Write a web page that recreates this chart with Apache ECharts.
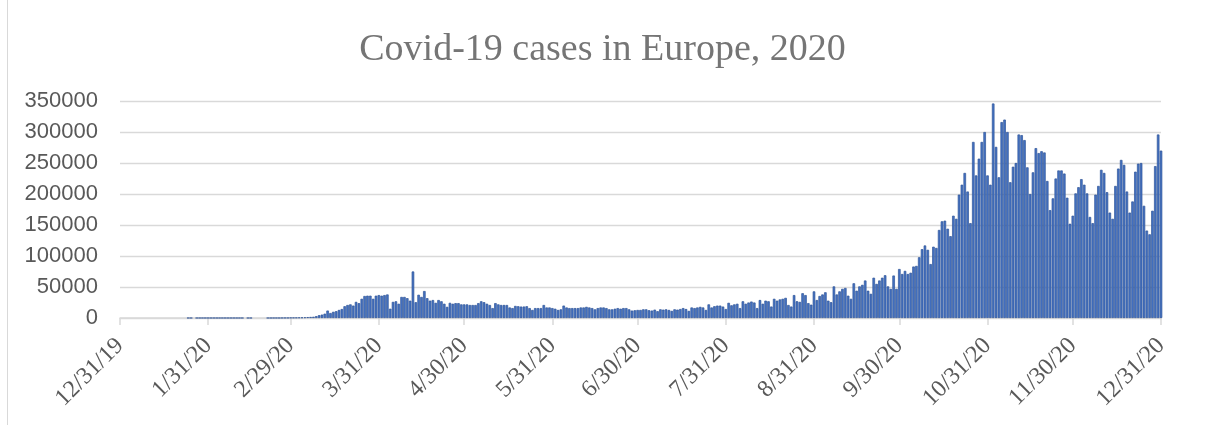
<!DOCTYPE html>
<html>
<head>
<meta charset="utf-8">
<title>Covid-19 cases in Europe, 2020</title>
<script src="https://cdn.jsdelivr.net/npm/echarts@6.0.0/dist/echarts.min.js"></script>
<style>
  html, body { margin: 0; padding: 0; background: #fff; }
  #frame { position: absolute; left: 7px; top: 0; width: 1197px; height: 425px; border-left: 1px solid #d9d9d9; }
  #chart { position: absolute; left: 0; top: 0; width: 1205px; height: 426px; }
</style>
</head>
<body>
<div id="frame"></div>
<div id="chart"></div>
<script>
// daily new cases (12/31/2019 .. 12/31/2020)
var dec2019 = [0]
var jan = [0, 0, 0, 0, 0, 0, 0, 0, 0, 0, 0, 0, 0, 0, 0, 0, 0, 0, 0, 0, 0, 0, 0, 2, 1, 0, 1, 4, 1, 1, 3]
var feb = [3, 1, 4, 1, 1, 2, 1, 5, 1, 4, 1, 2, 0, 1, 1, 0, 0, 0, 0, 0, 3, 17, 62, 65, 100, 170, 250, 300, 450]
var mar = [550, 600, 800, 900, 1100, 1400, 1700, 2000, 3000, 4500, 5500, 7000, 12000, 8000, 10000, 11000,
  13000, 14500, 19000, 21000, 22000, 20000, 26000, 24000, 31000, 35500, 36000, 36000, 31000, 36000, 37000]
var apr = [36000, 37000, 38000, 15000, 26000, 27000, 23000, 34000, 34000, 32000, 28000, 75000, 25500, 37500, 34000,
  43500, 32000, 28000, 29000, 24500, 29000, 27000, 23000, 18000, 24500, 23000, 24000, 24000, 22000, 22000]
var may = [22000, 21000, 21000, 21000, 24000, 27000, 25500, 23000, 21000, 16000, 24000, 22000, 21000, 21000, 21000,
  17000, 16000, 19500, 19000, 18500, 18500, 19000, 16000, 13000, 16000, 16000, 16000, 21000, 17000, 17000, 16000]
var jun = [15000, 13000, 14000, 20000, 17000, 16000, 16000, 16000, 16000, 17000, 17000, 18000, 17000, 16000, 14000,
  16000, 17000, 17000, 16000, 14000, 14000, 15000, 16000, 15000, 16000, 16000, 14000, 12000, 12500, 13000]
var jul = [13000, 14000, 14000, 12500, 12000, 13500, 11000, 14000, 13500, 14000, 13000, 11500, 14000, 13500, 14500,
  16000, 14500, 11500, 17000, 16000, 17000, 18000, 17000, 13000, 22000, 17000, 19000, 20000, 20000, 18500, 14500]
var aug = [24500, 20500, 22000, 23000, 16000, 27000, 23000, 25000, 26500, 25000, 16000, 29000, 23000, 28000, 27000,
  18500, 31000, 28000, 30000, 31000, 32500, 21000, 18500, 37000, 27000, 26000, 40000, 37000, 24000, 21500, 43000]
var sep = [29000, 35500, 38000, 41500, 28000, 25500, 51000, 38000, 43000, 47000, 48500, 36000, 31000, 56000, 44000,
  51000, 53500, 60500, 44000, 39000, 65000, 55000, 60500, 65000, 69000, 51000, 47000, 68500, 47000, 79000]
var oct = [71000, 76000, 71000, 73000, 83000, 84000, 98000, 111000, 117000, 110000, 87000, 115000, 113000, 142000, 156000,
  157000, 144000, 132000, 165000, 160000, 199000, 215000, 234000, 204000, 153000, 284000, 230000, 257000, 284000, 300000, 230000]
var nov = [215000, 346000, 276000, 227000, 316000, 320000, 300000, 219000, 244000, 250000, 296000, 295000, 287000, 243000, 200000,
  235000, 274000, 266000, 269000, 267000, 221000, 174000, 193000, 225000, 238000, 238000, 233000, 194000, 152000, 165000]
var dec = [201000, 211000, 224000, 215000, 201000, 163000, 153000, 199000, 213000, 239000, 234000, 203000, 170000, 160000, 213000,
  241000, 255000, 247000, 204000, 170000, 188000, 236000, 249000, 250000, 181000, 141000, 135000, 173000, 245000, 296000, 270000]

var tickLabels = ['12/31/19', '1/31/20', '2/29/20', '3/31/20', '4/30/20', '5/31/20', '6/30/20',
  '7/31/20', '8/31/20', '9/30/20', '10/31/20', '11/30/20', '12/31/20']

var cases = [].concat(dec2019, jan, feb, mar, apr, may, jun, jul, aug, sep, oct, nov, dec)

// one category per day, labelled like Excel's m/d/yy
var days = []
var d = new Date(2019, 11, 31)
for (var i = 0; i < cases.length; i++) {
  days.push((d.getMonth() + 1) + '/' + d.getDate() + '/' + String(d.getFullYear()).slice(2))
  d.setDate(d.getDate() + 1)
}

function isMonthEnd(index, value) {
  return tickLabels.indexOf(value) !== -1
}

var chart = echarts.init(document.getElementById('chart'))
chart.setOption({
  animation: false,
  title: {
    text: 'Covid-19 cases in Europe, 2020',
    left: 'center',
    top: 26,
    textStyle: {
      fontFamily: 'Liberation Serif',
      fontWeight: 'normal',
      fontSize: 38,
      color: '#757575'
    }
  },
  grid: {
    left: 120,
    right: 44,
    top: 101,
    bottom: 108
  },
  xAxis: {
    type: 'category',
    data: days,
    boundaryGap: false,
    axisLine: {
      lineStyle: { color: '#d9d9d9', width: 1.5 }
    },
    axisTick: {
      interval: isMonthEnd,
      length: 7,
      lineStyle: { color: '#d9d9d9', width: 1.5 }
    },
    axisLabel: {
      interval: isMonthEnd,
      rotate: 45,
      margin: 24,
      fontFamily: 'Liberation Serif',
      fontSize: 24,
      color: '#595959'
    },
    splitLine: { show: false }
  },
  yAxis: {
    type: 'value',
    min: 0,
    max: 350000,
    interval: 50000,
    axisLine: { show: false },
    axisTick: { show: false },
    axisLabel: {
      margin: 22,
      fontFamily: 'Liberation Sans',
      fontSize: 22,
      color: '#595959',
      formatter: function (v) { return String(v) }
    },
    splitLine: {
      lineStyle: { color: '#d9d9d9', width: 1.3 }
    }
  },
  series: [
    {
      name: 'Cases',
      type: 'bar',
      // days with no cases get no bar at all
      data: cases.map(function (v) { return v === 0 ? '-' : v }),
      barCategoryGap: '10%',
      itemStyle: {
        color: '#4472c4',
        borderColor: '#2f5597',
        borderWidth: 0.7
      }
    }
  ]
})
</script>
</body>
</html>
